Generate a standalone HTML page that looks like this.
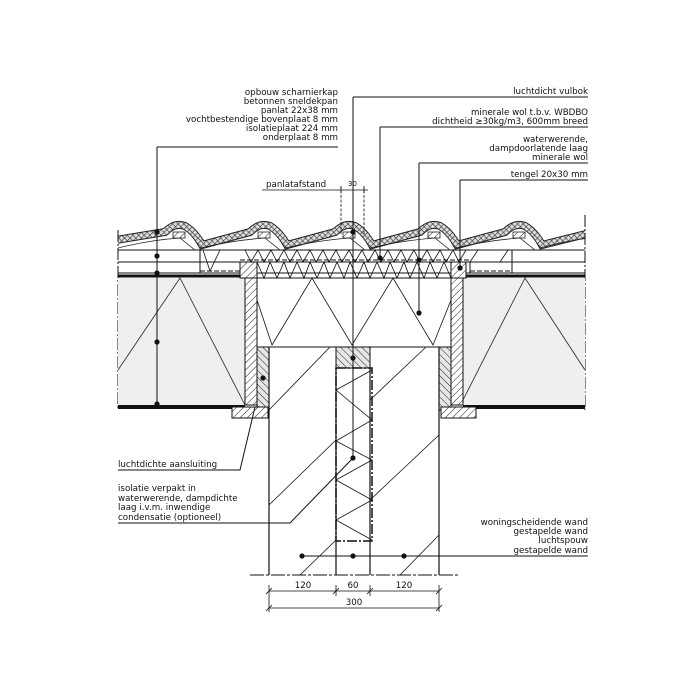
<!DOCTYPE html>
<html><head><meta charset="utf-8"><style>
html,body{margin:0;padding:0;background:#fff}
svg{display:block}
text{font-family:"DejaVu Sans","Liberation Sans",sans-serif;font-size:8.7px;fill:#111}
</style></head><body>
<svg width="700" height="700" viewBox="0 0 700 700" xmlns="http://www.w3.org/2000/svg">
<defs>
<pattern id="hat" width="5" height="5" patternUnits="userSpaceOnUse" patternTransform="rotate(45)">
<rect width="5" height="5" fill="#fff"/><line x1="0" y1="0" x2="0" y2="5" stroke="#222" stroke-width="1"/></pattern>
<pattern id="hat2" width="5" height="5" patternUnits="userSpaceOnUse" patternTransform="rotate(-45)">
<rect width="5" height="5" fill="#e6e6e6"/><line x1="0" y1="0" x2="0" y2="5" stroke="#222" stroke-width="1"/></pattern>
<pattern id="cross" width="4" height="4" patternUnits="userSpaceOnUse" patternTransform="rotate(45)">
<rect width="4" height="4" fill="#ddd"/><path d="M0 0H4M0 0V4" stroke="#333" stroke-width="1.2"/></pattern>
<clipPath id="roofclip"><rect x="118" y="200" width="467" height="50"/></clipPath>
</defs>

<!-- roof tiles -->
<g clip-path="url(#roofclip)" fill="none">
<path id="w" d="M110 241 L165 232 Q175 222 185 226 Q195 232 202 245 L250 232 Q260 222 270 226 Q280 232 287 245 L335 232 Q345 222 355 226 Q365 232 372 245 L420 232 Q430 222 440 226 Q450 232 457 245 L505 232 Q515 222 525 226 Q535 232 542 245 L590 233" stroke="#222" stroke-width="8"/>
<path d="M110 241 L165 232 Q175 222 185 226 Q195 232 202 245 L250 232 Q260 222 270 226 Q280 232 287 245 L335 232 Q345 222 355 226 Q365 232 372 245 L420 232 Q430 222 440 226 Q450 232 457 245 L505 232 Q515 222 525 226 Q535 232 542 245 L590 233" stroke="url(#cross)" stroke-width="6"/>
<path d="M118 248 Q150 240 180 238 L195 250 M200 248 Q235 240 265 238 L280 250 M285 248 Q320 240 350 238 L365 250 M370 248 Q405 240 435 238 L450 250 M455 248 Q490 240 520 238 L535 250 M540 248 Q570 240 590 238" stroke="#222" stroke-width="0.8"/>
</g>
<g fill="url(#hat)" stroke="#222" stroke-width="0.8">
<rect x="173" y="232" width="12" height="6"/><rect x="258" y="232" width="12" height="6"/><rect x="343" y="232" width="12" height="6"/><rect x="428" y="232" width="12" height="6"/><rect x="513" y="232" width="12" height="6"/>
</g>

<!-- roof layers -->
<g stroke="#111" stroke-width="1" fill="none">
<line x1="118" y1="250" x2="585" y2="250"/>
<line x1="118" y1="262" x2="585" y2="262"/>
<line x1="118" y1="273" x2="585" y2="273"/>
<line x1="118" y1="276" x2="245" y2="276" stroke-width="3"/>
<line x1="463" y1="276" x2="585" y2="276" stroke-width="3"/>
<line x1="118" y1="407" x2="245" y2="407" stroke-width="4"/>
<line x1="463" y1="407" x2="585" y2="407" stroke-width="4"/>
<line x1="118" y1="230" x2="118" y2="410" stroke-dasharray="12 2 2 2"/>
<line x1="585" y1="215" x2="585" y2="410" stroke-dasharray="12 2 2 2"/>
<path d="M200 250 V273 M512 250 V273 M240 262 V273 M470 262 V273"/>
<path d="M203 250 L210 271 L220 250 M478 250 L470 262 M500 262 L508 250" stroke-width="0.8"/>
<line x1="200" y1="271" x2="240" y2="271" stroke-dasharray="5 2"/>
<line x1="470" y1="271" x2="510" y2="271" stroke-dasharray="5 2"/>
<line x1="240" y1="260" x2="470" y2="260" stroke-dasharray="5 2"/>
<path d="M245 250 L251 262 L258 250 L264 262 L271 250 L277 262 L284 250 L290 262 L297 250 L303 262 L310 250 L316 262 L323 250 L329 262 L336 250 L342 262 L349 250 L355 262 L362 250 L368 262 L375 250 L381 262 L388 250 L394 262 L401 250 L407 262 L414 250 L420 262 L427 250 L433 262 L440 250 L446 262 L453 250 L459 262 L466 250" stroke-width="0.8"/>
<path d="M257 262 L264 278 L270 262 L277 278 L284 262 L290 278 L297 262 L304 278 L310 262 L317 278 L324 262 L330 278 L337 262 L344 278 L350 262 L357 278 L364 262 L370 278 L377 262 L384 278 L390 262 L397 278 L404 262 L410 278 L417 262 L424 278 L430 262 L437 278 L444 262 L451 278" stroke-width="0.8"/>
</g>

<!-- insulation panels -->
<rect x="118" y="278" width="127" height="127" fill="#efefef"/>
<rect x="463" y="278" width="122" height="127" fill="#efefef"/>
<g stroke="#222" stroke-width="0.8" fill="none">
<path d="M118 370 L180 278 L245 405"/>
<path d="M463 400 L525 278 L585 370"/>
</g>
<rect x="245" y="278" width="12" height="127" fill="url(#hat)" stroke="#111"/>
<rect x="451" y="278" width="12" height="127" fill="url(#hat)" stroke="#111"/>
<rect x="240" y="262" width="17" height="16" fill="url(#hat)" stroke="#111"/>
<rect x="451" y="262" width="15" height="16" fill="url(#hat)" stroke="#111"/>
<rect x="257" y="347" width="12" height="63" fill="url(#hat2)" stroke="#111"/>
<rect x="439" y="347" width="12" height="63" fill="url(#hat2)" stroke="#111"/>
<rect x="336" y="347" width="34" height="21" fill="url(#hat2)" stroke="#111"/>
<rect x="232" y="407" width="36" height="11" fill="url(#hat)" stroke="#111"/>
<rect x="441" y="407" width="35" height="11" fill="url(#hat)" stroke="#111"/>

<g stroke="#111" fill="none">
<rect x="257" y="278" width="194" height="69" stroke-width="1"/>
<path d="M257 300 L272 345 L312 278 L352 345 L393 278 L433 345 L451 300" stroke-width="0.8"/>
<path d="M269 347 V575 M336 368 V575 M370 368 V575 M439 347 V575" stroke-width="1.2"/>
<rect x="336" y="368" width="36" height="173" stroke-width="1.5" stroke-dasharray="10 2 2 2"/>
<path d="M372 370 L336 390 L372 420 L336 441 L372 460 L336 480 L372 500 L336 520 L372 540" stroke-width="0.8"/>
<path d="M269 410 L330 347 M269 505 L336 440 M300 575 L336 540 M370 400 L426 347 M370 500 L439 435 M400 575 L439 535" stroke-width="0.8"/>
<line x1="250" y1="575" x2="460" y2="575" stroke-dasharray="14 2 3 2"/>
<path d="M269 591 H439 M269 608 H439 M269 585 V612 M336 585 V596 M370 585 V596 M439 585 V612" stroke-width="0.8"/>
<path d="M266 594 L272 588 M333 594 L339 588 M367 594 L373 588 M436 594 L442 588 M266 611 L272 605 M436 611 L442 605" stroke-width="0.8"/>
<path d="M157 147 H338 M157 147 V405" stroke-width="1"/>
<path d="M353 97 H588 M353 97 V458" stroke-width="1"/>
<path d="M380 127 H588 M380 127 V258" stroke-width="1"/>
<path d="M419 163 H588 M419 163 V313" stroke-width="1"/>
<path d="M460 180 H588 M460 180 V268" stroke-width="1"/>
<path d="M118 470 H240 L255 407" stroke-width="1"/>
<path d="M118 523 H290 L353 458" stroke-width="1"/>
<path d="M300 556 H588" stroke-width="1"/>
<path d="M341 186 V234 M364 186 V234" stroke-width="0.8" stroke-dasharray="3 1.5"/>
<path d="M338 190 H368 M341 187 V193 M364 187 V193" stroke-width="0.8"/>
<path d="M262 190 H338" stroke-width="0.8"/>
</g>
<g fill="#111">
<circle cx="157" cy="232" r="2.6"/><circle cx="157" cy="256" r="2.6"/><circle cx="157" cy="273" r="2.6"/><circle cx="157" cy="342" r="2.6"/><circle cx="157" cy="404" r="2.6"/>
<circle cx="353" cy="232" r="2.6"/><circle cx="353" cy="358" r="2.6"/><circle cx="353" cy="458" r="2.6"/>
<circle cx="380" cy="258" r="2.6"/><circle cx="419" cy="260" r="2.6"/><circle cx="419" cy="313" r="2.6"/>
<circle cx="460" cy="268" r="2.6"/><circle cx="263" cy="378" r="2.6"/>
<circle cx="302" cy="556" r="2.6"/><circle cx="353" cy="556" r="2.6"/><circle cx="404" cy="556" r="2.6"/>
</g>

<g text-anchor="end">
<text x="338" y="95">opbouw scharnierkap</text>
<text x="338" y="104">betonnen sneldekpan</text>
<text x="338" y="113">panlat 22x38 mm</text>
<text x="338" y="122">vochtbestendige bovenplaat 8 mm</text>
<text x="338" y="131">isolatieplaat 224 mm</text>
<text x="338" y="140">onderplaat 8 mm</text>
<text x="588" y="94">luchtdicht vulbok</text>
<text x="588" y="115">minerale wol t.b.v. WBDBO</text>
<text x="588" y="124">dichtheid ≥30kg/m3, 600mm breed</text>
<text x="588" y="142">waterwerende,</text>
<text x="588" y="151">dampdoorlatende laag</text>
<text x="588" y="160">minerale wol</text>
<text x="588" y="177">tengel 20x30 mm</text>
<text x="588" y="525">woningscheidende wand</text>
<text x="588" y="534">gestapelde wand</text>
<text x="588" y="543">luchtspouw</text>
<text x="588" y="553">gestapelde wand</text>
</g>
<text x="266" y="187">panlatafstand</text>
<text x="348" y="186" style="font-size:7px">30</text>
<text x="118" y="467">luchtdichte aansluiting</text>
<text x="118" y="491">isolatie verpakt in</text>
<text x="118" y="501">waterwerende, dampdichte</text>
<text x="118" y="510">laag i.v.m. inwendige</text>
<text x="118" y="520">condensatie (optioneel)</text>
<g text-anchor="middle" style="font-size:7px">
<text x="303" y="588">120</text><text x="353" y="588">60</text><text x="404" y="588">120</text><text x="354" y="605">300</text>
</g>
</svg>
</body></html>
